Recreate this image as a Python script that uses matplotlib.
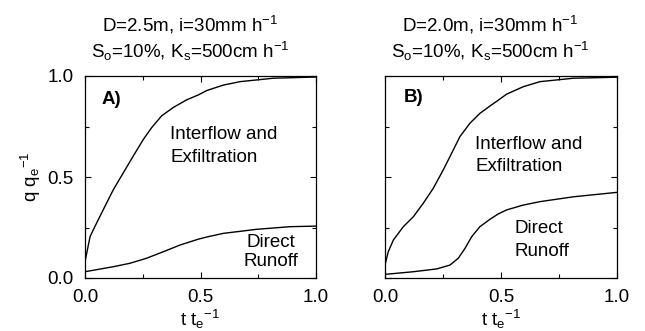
import numpy as np
import matplotlib.pyplot as plt
from matplotlib.ticker import MultipleLocator

plt.rcParams['font.family'] = ['Liberation Sans', 'DejaVu Sans']
plt.rcParams['mathtext.fontset'] = 'custom'
plt.rcParams['mathtext.rm'] = 'Liberation Sans'
plt.rcParams['mathtext.it'] = 'Liberation Sans'

# panel A (D=2.5m)
a_x_inter = [0.0, 0.022, 0.036, 0.079, 0.123, 0.166, 0.209, 0.253, 0.289, 0.332,
             0.382, 0.44, 0.49, 0.527, 0.599, 0.671, 0.815, 1.0]
a_y_inter = [0.081, 0.205, 0.239, 0.338, 0.438, 0.521, 0.604, 0.687, 0.745, 0.803,
             0.844, 0.882, 0.906, 0.928, 0.955, 0.972, 0.989, 0.995]
a_x_runoff = [0.0, 0.123, 0.195, 0.267, 0.339, 0.411, 0.49, 0.527, 0.599, 0.743, 0.887, 1.0]
a_y_runoff = [0.031, 0.056, 0.073, 0.098, 0.130, 0.163, 0.192, 0.203, 0.221, 0.241, 0.254, 0.257]

# panel B (D=2.0m)
b_x_inter = [0.0, 0.014, 0.036, 0.079, 0.122, 0.165, 0.208, 0.251, 0.287, 0.323,
             0.366, 0.409, 0.453, 0.488, 0.524, 0.596, 0.668, 0.812, 1.0]
b_y_inter = [0.064, 0.130, 0.188, 0.254, 0.303, 0.37, 0.444, 0.535, 0.617, 0.700,
             0.766, 0.815, 0.852, 0.88, 0.91, 0.947, 0.972, 0.989, 0.994]
b_x_runoff = [0.0, 0.122, 0.223, 0.28, 0.316, 0.345, 0.374, 0.409, 0.453, 0.488,
              0.524, 0.596, 0.668, 0.812, 1.0]
b_y_runoff = [0.018, 0.031, 0.045, 0.064, 0.098, 0.147, 0.205, 0.254, 0.291, 0.317,
              0.337, 0.361, 0.378, 0.402, 0.424]

fig = plt.figure(figsize=(6.45, 3.31), dpi=100)
axA = fig.add_axes([85 / 645, 53 / 331, 231 / 645, 202 / 331])
axB = fig.add_axes([385 / 645, 53 / 331, 232 / 645, 202 / 331])

fs = 13.5
for ax in (axA, axB):
    ax.set_xlim(0, 1)
    ax.set_ylim(0, 1)
    ax.xaxis.set_major_locator(MultipleLocator(0.5))
    ax.yaxis.set_major_locator(MultipleLocator(0.5))
    ax.xaxis.set_minor_locator(MultipleLocator(0.25))
    ax.yaxis.set_minor_locator(MultipleLocator(0.25))
    ax.tick_params(which='both', direction='in', top=True, right=True, width=0.8)
    ax.tick_params(which='major', length=4, labelsize=fs, pad=8)
    ax.tick_params(which='minor', length=3)
    ax.set_xticks([0, 0.5, 1.0])
    ax.set_xticklabels(['0.0', '0.5', '1.0'])
    ax.set_xlabel(r't t$_\mathregular{e}$$^\mathregular{-1}$', fontsize=fs, labelpad=1.5)
    for s in ax.spines.values():
        s.set_linewidth(0.9)

axA.set_yticks([0, 0.5, 1.0])
axA.set_yticklabels(['0.0', '0.5', '1.0'])
axA.set_ylabel(r'q q$_\mathregular{e}$$^\mathregular{-1}$', fontsize=fs, labelpad=3)
axB.set_yticklabels([])

axA.plot(a_x_inter, a_y_inter, color='black', lw=1.0)
axA.plot(a_x_runoff, a_y_runoff, color='black', lw=1.0)
axB.plot(b_x_inter, b_y_inter, color='black', lw=1.0)
axB.plot(b_x_runoff, b_y_runoff, color='black', lw=1.0)

axA.text(0.072, 0.861, 'A)', fontsize=fs, fontweight='bold')
axA.text(0.368, 0.688, 'Interflow and', fontsize=fs)
axA.text(0.368, 0.573, 'Exfiltration', fontsize=fs)
axA.text(0.805, 0.152, 'Direct', fontsize=fs, ha='center')
axA.text(0.805, 0.061, 'Runoff', fontsize=fs, ha='center')

axB.text(0.079, 0.87, 'B)', fontsize=fs, fontweight='bold')
axB.text(0.388, 0.639, 'Interflow and', fontsize=fs)
axB.text(0.388, 0.531, 'Exfiltration', fontsize=fs)
axB.text(0.56, 0.223, 'Direct', fontsize=fs)
axB.text(0.56, 0.11, 'Runoff', fontsize=fs)

fig.text(190 / 645, 1 - 31 / 331, r'D=2.5m, i=30mm h$^\mathregular{-1}$', fontsize=fs, ha='center')
fig.text(190 / 645, 1 - 58 / 331, r'S$_\mathregular{o}$=10%, K$_\mathregular{s}$=500cm h$^\mathregular{-1}$', fontsize=fs, ha='center')
fig.text(490 / 645, 1 - 31 / 331, r'D=2.0m, i=30mm h$^\mathregular{-1}$', fontsize=fs, ha='center')
fig.text(490 / 645, 1 - 58 / 331, r'S$_\mathregular{o}$=10%, K$_\mathregular{s}$=500cm h$^\mathregular{-1}$', fontsize=fs, ha='center')

fig.savefig('out.png', dpi=100)
